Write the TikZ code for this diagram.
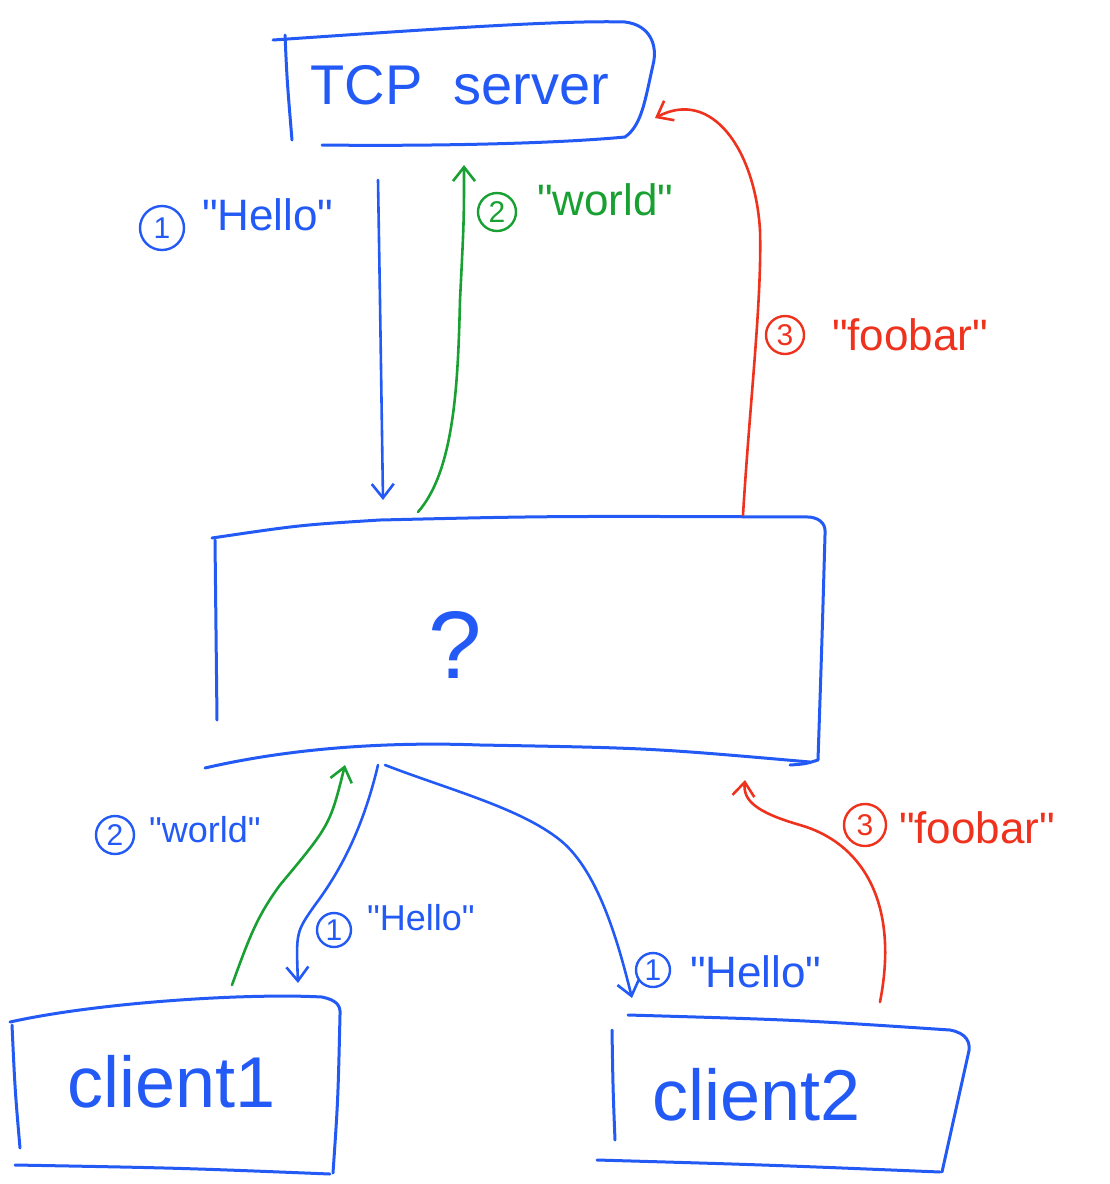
\documentclass[tikz,border=0pt]{standalone}
\usepackage{fontspec}
\setmainfont{Liberation Sans}[Ligatures=TeXOff]
\usetikzlibrary{arrows.meta}
\definecolor{pblue}{RGB}{35,90,245}
\definecolor{pgreen}{RGB}{25,160,50}
\definecolor{pred}{RGB}{238,50,30}
\newcommand{\dq}{\char34\relax}
\begin{document}
\begin{tikzpicture}[x=0.5pt,y=-0.5pt,line cap=round,line join=round,
  pen/.style={line width=1.5pt},
  conn/.style={line width=1.3pt,-{Straight Barb[length=7pt,width=11pt,line width=1.3pt]}},
  cnum/.style={circle,draw,line width=1.2pt,inner sep=0pt,minimum size=19pt,font=\fontsize{15}{15}\selectfont},
  lblbig/.style={anchor=west,font=\fontsize{22}{22}\selectfont},
  lblsmall/.style={anchor=west,font=\fontsize{18}{18}\selectfont}]
\useasboundingbox (0,0) rectangle (1109,1184);

% ---- TCP server box
\draw[pen,pblue] (285,35) .. controls (287,80) .. (292,140);
\draw[pen,pblue] (273,40) .. controls (420,30) and (560,20) .. (625,22)
  .. controls (650,25) and (658,45) .. (653,65)
  .. controls (645,100) and (642,125) .. (625,137)
  .. controls (540,145) and (400,146) .. (322,145);
\node[font=\fontsize{28}{28}\selectfont,text=pblue] (tcp) at (460,85) {TCP\ \ server};

% ---- middle box
\draw[pen,pblue] (215,540) .. controls (216,630) .. (217,720);
\draw[pen,pblue] (212,538) .. controls (300,525) .. (380,520)
  .. controls (550,516) .. (810,517) .. controls (822,519) and (826,525) .. (825,535)
  .. controls (822,640) .. (818,760) .. controls (805,764) .. (790,765);
\draw[pen,pblue] (205,768) .. controls (300,746) and (400,742) .. (480,745)
  .. controls (650,748) .. (810,762);
\node[font=\fontsize{48}{48}\selectfont,text=pblue] (mid) at (455,645) {?};

% ---- client1 box
\draw[pen,pblue] (12,1025) .. controls (15,1090) .. (20,1148);
\draw[pen,pblue] (10,1022) .. controls (100,1002) and (250,993) .. (322,997)
  .. controls (336,1000) and (341,1005) .. (340,1015)
  .. controls (338,1100) .. (333,1173);
\draw[pen,pblue] (15,1165) .. controls (180,1168) .. (330,1174);
\node[font=\fontsize{36}{36}\selectfont,text=pblue] (c1) at (172,1082) {client1};

% ---- client2 box
\draw[pen,pblue] (612,1030) .. controls (613,1090) .. (615,1140);
\draw[pen,pblue] (628,1015) .. controls (800,1020) .. (950,1030)
  .. controls (966,1033) and (972,1042) .. (968,1055)
  .. controls (958,1100) .. (942,1172);
\draw[pen,pblue] (597,1160) .. controls (770,1165) .. (940,1172);
\node[font=\fontsize{36}{36}\selectfont,text=pblue] (c2) at (757,1095) {client2};

% ---- connector end points
\coordinate (s1a) at (378,180); \coordinate (m1a) at (383,500);
\coordinate (m2a) at (418,512); \coordinate (s2a) at (464,165);
\coordinate (m3a) at (743,515); \coordinate (s3a) at (655,118);
\coordinate (c1g) at (232,985); \coordinate (m2b) at (345,765);
\coordinate (m1b) at (378,765); \coordinate (c1h) at (298,983);
\coordinate (m1c) at (385,765); \coordinate (c2h) at (632,998);
\coordinate (c2r) at (880,1002); \coordinate (m3b) at (745,780);

% ---- connectors
\draw[conn,pblue] (s1a) .. controls (380,300) .. (m1a);
\draw[conn,pgreen] (m2a) .. controls (455,470) and (458,380) .. (460,300)
  .. controls (464,220) .. (s2a);
\draw[conn,pred] (m3a) .. controls (750,400) and (762,300) .. (760,230)
  .. controls (755,150) and (712,88) .. (s3a);
\draw[conn,pgreen] (c1g) .. controls (250,935) and (258,915) .. (280,885)
  .. controls (330,825) .. (m2b);
\draw[conn,pblue] (m1b) .. controls (365,820) and (345,865) .. (315,905)
  .. controls (296,932) .. (c1h);
\draw[conn,pblue] (m1c) .. controls (450,790) and (520,808) .. (560,840)
  .. controls (600,872) and (620,950) .. (c2h);
\draw[conn,pred] (c2r) .. controls (900,900) and (860,842) .. (800,825)
  .. controls (755,812) and (743,800) .. (m3b);

% ---- labels
\node[cnum,draw=pblue,text=pblue,minimum size=22pt] (n1a) at (162,228) {1};
\node[lblbig,text=pblue] (t1a) at (195,215) {\dq Hello\dq};
\node[cnum,draw=pgreen,text=pgreen] (n2a) at (497,212) {2};
\node[lblbig,text=pgreen] (t2a) at (530,200) {\dq world\dq};
\node[cnum,draw=pred,text=pred] (n3a) at (785,335) {3};
\node[lblbig,text=pred] (t3a) at (825,335) {\dq foobar\dq};
\node[cnum,draw=pblue,text=pblue] (n2b) at (115,835) {2};
\node[lblsmall,text=pblue] (t2b) at (142,830) {\dq world\dq};
\node[cnum,draw=pblue,text=pblue,minimum size=17pt] (n1b) at (334,930) {1};
\node[lblsmall,text=pblue] (t1b) at (360,918) {\dq Hello\dq};
\node[cnum,draw=pblue,text=pblue,minimum size=17pt] (n1c) at (653,970) {1};
\node[lblbig,text=pblue] (t1c) at (683,972) {\dq Hello\dq};
\node[cnum,draw=pred,text=pred,minimum size=21pt] (n3b) at (865,825) {3};
\node[lblbig,text=pred] (t3b) at (892,828) {\dq foobar\dq};
\end{tikzpicture}
\end{document}
